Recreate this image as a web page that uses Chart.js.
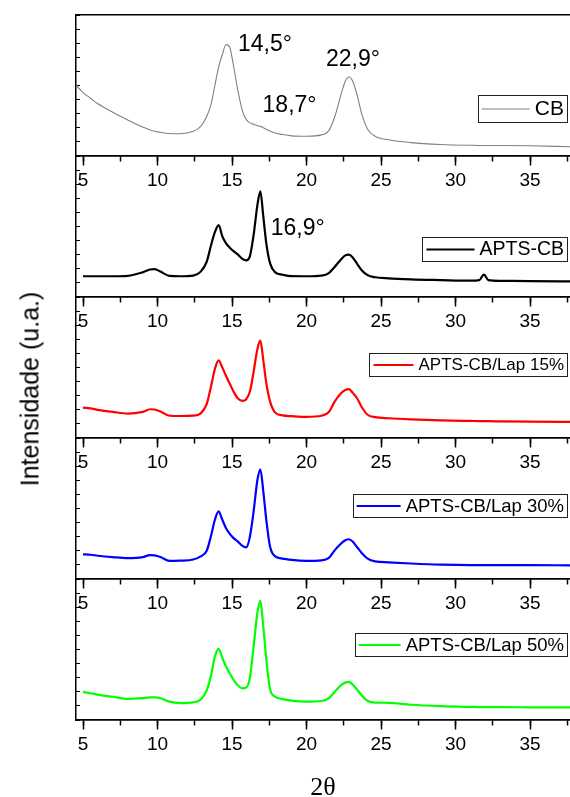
<!DOCTYPE html>
<html>
<head>
<meta charset="utf-8">
<script src="https://cdn.jsdelivr.net/npm/chart.js@4.4.1/dist/chart.umd.min.js"></script>
<style>
  html, body { margin: 0; padding: 0; background: #fff; }
  #wrap { position: relative; width: 570px; height: 797px; }
  #yTitle { position: absolute; left: 30px; top: 389px; transform: translate(-50%, -50%) rotate(-90deg);
            font: 25px "Liberation Sans", Arial, sans-serif; white-space: nowrap; color: #000; }
  #xTitle { position: absolute; left: 323px; top: 787px; transform: translate(-50%, -50%);
            font: 26px "Liberation Serif", "Times New Roman", serif; color: #000; }
</style>
</head>
<body>
<div id="wrap">
  <canvas id="xrdChart" width="570" height="797"></canvas>
  <div id="yTitle">Intensidade (u.a.)</div>
  <div id="xTitle">2θ</div>
</div>
<script>
// 2theta positions (degrees)
const twoTheta = [4.55, 5, 5.5, 6, 7, 8, 9, 9.5, 9.8, 10.2,
  10.8, 11.5, 12.4, 12.9, 13.3, 13.6, 13.85, 14.1, 14.35, 14.6,
  14.85, 15.1, 15.4, 15.7, 15.95, 16.2, 16.45, 16.7, 16.9, 17.1,
  17.3, 17.55, 17.9, 18.4, 19, 20, 21, 21.5, 21.9, 22.3,
  22.6, 22.85, 23.1, 23.4, 23.7, 24.1, 24.6, 25.5, 27, 29,
  31, 31.6, 31.9, 32.2, 33, 35, 37.7];

// intensities (a.u., 0-100 per panel)
const cb = [50, 45, 41, 37, 31, 25.5, 20.5, 18.5, 17.5, 16.8,
  16, 15.8, 17.5, 21, 28, 37, 50, 63, 72, 79,
  77, 64, 46, 32, 26, 23.5, 22.5, 21.5, 21, 20,
  19, 17.8, 16.3, 15.2, 14.3, 14, 15, 18, 28, 43,
  53, 56, 53, 43, 30, 19, 14, 11.5, 9.5, 8.2,
  7.6, 7.5, 7.5, 7.5, 7.5, 7.3, 6.6];
const aptsCb = [null, 14.7, 14.7, 14.7, 14.7, 15, 17.5, 19.5, 19.8, 18,
  15, 14.7, 15.2, 18, 25, 37, 46, 51, 43, 38,
  35, 32.5, 30, 27, 26, 29, 44, 65, 75, 57,
  38, 24, 17.5, 15.8, 14.8, 14.7, 15.2, 17, 21.5, 26.5,
  29.5, 30, 28, 23.5, 19, 15.5, 14, 13.2, 12.5, 12,
  11.6, 12, 15.9, 12, 11.5, 11.3, 11.1];
const lap15 = [null, 21.6, 21, 20, 18.5, 17.3, 18.5, 20.4, 20.2, 18.8,
  15.8, 15.6, 15.8, 17.5, 24, 37, 49, 55, 50, 44,
  38.5, 33, 28, 26.3, 27.5, 33, 47, 63, 69, 55,
  39, 26, 18, 16, 15.5, 15, 15.8, 18.5, 26, 31.5,
  34, 34.7, 32, 28, 22, 16.5, 14.8, 14, 13.2, 12.5,
  12.1, 12, 12, 11.9, 11.8, 11.6, 11.4];
const lap30 = [null, 17.5, 17.2, 16.5, 15.5, 14.8, 15.5, 17, 16.8, 15.6,
  12.8, 13, 13.8, 16, 20, 31, 42, 48, 42, 36,
  32, 29, 26.5, 23.5, 22.5, 30, 48, 70, 77.8, 62,
  42, 23, 16, 14.5, 13.5, 12.8, 13.2, 15, 20.5, 25,
  27.5, 28.2, 26.5, 22.5, 18.5, 14.5, 12.5, 11.8, 11, 10.2,
  9.9, 9.9, 9.9, 9.9, 9.8, 9.8, 9.7];
const lap50 = [null, 19.9, 19, 18, 16.5, 15, 15.5, 16, 16, 15.5,
  13, 12, 12.5, 14.5, 21, 32, 45, 50.5, 44, 38,
  33, 28.5, 24.5, 22.5, 23, 30, 52, 76, 84.5, 66,
  43, 22, 16.5, 14.8, 13.8, 13, 13.5, 15.5, 20, 24.5,
  26.5, 27, 25, 21.5, 17.5, 13.5, 12.3, 12.2, 10.8, 9.8,
  9.3, 9.2, 9.2, 9.1, 9.1, 9, 8.9];

const seriesNames = ['CB', 'APTS-CB', 'APTS-CB/Lap 15%', 'APTS-CB/Lap 30%', 'APTS-CB/Lap 50%'];
const seriesValues = [cb, aptsCb, lap15, lap30, lap50];
const seriesColors = ['#808080', '#000000', '#ff0000', '#0000ff', '#00ff00'];
const panelAxes = ['yCB', 'yAPTS', 'y15', 'y30', 'y50'];

// peak annotations
const peakLabels = ['14,5°', '18,7°', '22,9°', '16,9°'];
const peakAngles = [15.4, 17.05, 21.3, 17.6];
const peakHeights = [79, 36, 68, 48.7];
const peakPanels = ['yCB', 'yCB', 'yCB', 'yAPTS'];

const xMin = 4.53, xMax = 37.68;

// legend box layout for each panel
const legendTop = [80, 81, 56, 56, 54];
const legendHeight = [27, 24, 23, 23, 23];
const legendFont = [21, 19.5, 17, 18.5, 18.5];
const legendLine = [48, 48, 40, 44, 42];

function xAxis(pos, step, tickLen, showLabels) {
  return {
    type: 'linear', position: pos, min: xMin, max: xMax,
    grid: { drawOnChartArea: false, drawTicks: true, tickLength: tickLen, tickWidth: 1.5, tickColor: '#000' },
    border: { display: true, color: '#000', width: 1.5 },
    ticks: {
      display: showLabels, stepSize: step, includeBounds: false, autoSkip: false, maxRotation: 0,
      padding: 4, color: '#000', font: { family: 'Liberation Sans', size: 19 }
    }
  };
}

function yAxis() {
  return {
    type: 'linear', position: 'left', stack: 'panels', stackWeight: 1, min: 0, max: 100,
    grid: { drawOnChartArea: false, tickLength: -4, tickWidth: 1, tickColor: '#000' },
    border: { display: true, color: '#000', width: 1.5 },
    ticks: { display: false, stepSize: 10 },
    afterFit: s => { s.width = 0; }
  };
}

const scales = {
  x: xAxis({ y50: 0 }, 5, 9, true),
  xm5: xAxis({ y50: 0 }, 2.5, 5, false),
  xTop: {
    type: 'linear', position: 'top', min: xMin, max: xMax,
    grid: { drawOnChartArea: false, drawTicks: false },
    border: { display: true, color: '#000', width: 1.5 },
    ticks: { display: false }
  }
};
// stacked left axes are laid out last-defined on top, so define bottom panel first
panelAxes.slice().reverse().forEach(id => { scales[id] = yAxis(); });
panelAxes.slice(0, 4).forEach((id, i) => {
  scales['xb' + i] = xAxis({ [id]: 0 }, 5, 9, true);
  scales['xm' + i] = xAxis({ [id]: 0 }, 2.5, 5, false);
});

const panelDecor = {
  id: 'panelDecor',
  afterDatasetsDraw(chart) {
    const ctx = chart.ctx;
    const right = chart.chartArea.right - 3;
    chart.data.datasets.forEach((ds, i) => {
      const sc = chart.scales[ds.yAxisID];
      ctx.save();
      ctx.font = legendFont[i] + 'px "Liberation Sans", Arial, sans-serif';
      const tw = ctx.measureText(ds.label).width;
      const top = Math.round(sc.top + legendTop[i]);
      const h = legendHeight[i];
      const textX = right - 3 - tw;
      const lineEnd = textX - 5;
      const lineStart = lineEnd - legendLine[i];
      const boxLeft = Math.round(lineStart - 4);
      ctx.fillStyle = '#fff';
      ctx.fillRect(boxLeft, top, right - boxLeft, h);
      ctx.strokeStyle = '#222';
      ctx.lineWidth = 1;
      ctx.strokeRect(boxLeft + 0.5, top + 0.5, right - boxLeft, h);
      ctx.strokeStyle = ds.borderColor;
      ctx.lineWidth = Math.min(ds.borderWidth, 1.8);
      ctx.beginPath();
      ctx.moveTo(lineStart, top + h / 2 + 0.5);
      ctx.lineTo(lineEnd, top + h / 2 + 0.5);
      ctx.stroke();
      ctx.fillStyle = '#000';
      ctx.textBaseline = 'middle';
      ctx.fillText(ds.label, textX, top + h / 2 + 1);
      ctx.restore();
    });
    ctx.save();
    ctx.font = '23px "Liberation Sans", Arial, sans-serif';
    ctx.fillStyle = '#000';
    ctx.textBaseline = 'middle';
    peakLabels.forEach((t, i) => {
      const x = chart.scales.x.getPixelForValue(peakAngles[i]);
      const y = chart.scales[peakPanels[i]].getPixelForValue(peakHeights[i]);
      ctx.fillText(t, x, y);
    });
    ctx.restore();
  }
};

new Chart(document.getElementById('xrdChart'), {
  type: 'line',
  data: {
    datasets: seriesNames.map((name, i) => ({
      label: name,
      data: twoTheta.map((a, k) => ({ x: a, y: seriesValues[i][k] })),
      xAxisID: 'x',
      yAxisID: panelAxes[i],
      borderColor: seriesColors[i],
      borderWidth: i === 0 ? 1.1 : 2.2,
      pointRadius: 0,
      cubicInterpolationMode: 'monotone',
      fill: false
    }))
  },
  options: {
    responsive: false,
    animation: false,
    devicePixelRatio: 1,
    layout: { padding: { left: 76, top: 15, right: 0, bottom: 77 } },
    plugins: { legend: { display: false }, tooltip: { enabled: false } },
    scales: scales
  },
  plugins: [panelDecor]
});
</script>
</body>
</html>
